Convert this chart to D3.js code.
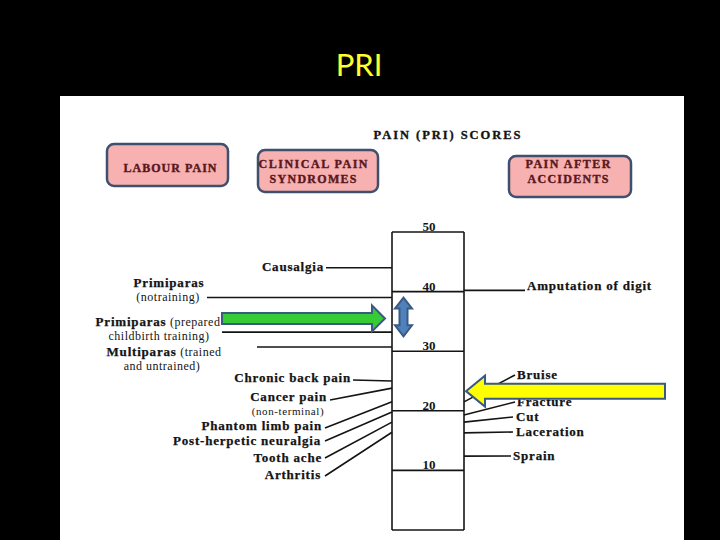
<!DOCTYPE html>
<html><head><meta charset="utf-8">
<script src="https://cdn.jsdelivr.net/npm/d3@7"></script>
<style>body{margin:0;background:#000;}svg{display:block}</style>
</head><body>
<svg id="c" width="720" height="540"></svg>
<script>
// ---------- data ----------
const slideTitle = "PRI";
const chartTitle = "PAIN (PRI) SCORES";
const scaleTicks = [0, 10, 20, 30, 40, 50];
const scaleTickLabels = ["", "10", "20", "30", "40", "50"];
const groupTitles = [["LABOUR PAIN"], ["CLINICAL PAIN", "SYNDROMES"], ["PAIN AFTER", "ACCIDENTS"]];
const labourNames = ["Primiparas", "Primiparas", "Multiparas"];
const labourNotes1 = ["", " (prepared", " (trained"];
const labourNotes2 = ["(notraining)", "childbirth training)", "and untrained)"];
const labourValues = [39, 33.2, 30.7];
const clinicalLabels = ["Causalgia", "Chronic back pain", "Cancer pain", "Phantom limb pain", "Post-herpetic neuralgia", "Tooth ache", "Arthritis"];
const clinicalNotes = ["", "", "(non-terminal)", "", "", "", ""];
const clinicalValues = [44, 25, 23.8, 21.5, 19.8, 18.1, 16.4];
const accidentLabels = ["Amputation of digit", "Bruise", "Fracture", "Cut", "Laceration", "Sprain"];
const accidentValues = [40.2, 21.5, 19.3, 18.1, 16.3, 12.4];
const greenArrowValue = 35.5;
const doubleArrowRange = [39, 32.5];
const yellowArrowValue = 23.3;

// ---------- layout ----------
const svg = d3.select("#c");
const y = d3.scaleLinear().domain([0, 50]).range([530, 232]);
const colL = 392, colR = 464;
const serif = "'Liberation Serif','Times New Roman',serif";
const ink = "#141414";

svg.append("rect").attr("width", 720).attr("height", 540).attr("fill", "#000");
svg.append("text").attr("x", 359).attr("y", 76).attr("text-anchor", "middle")
  .attr("font-family", "Lato, 'Open Sans', sans-serif").attr("font-size", 31)
  .attr("fill", "#ffff2e").text(slideTitle);
svg.append("rect").attr("x", 60).attr("y", 96).attr("width", 624).attr("height", 444).attr("fill", "#ffffff");

// chart title
svg.append("text").attr("x", 447).attr("y", 139).attr("text-anchor", "middle")
  .attr("font-family", serif).attr("font-weight", "bold").attr("font-size", 12.5)
  .attr("textLength", 147).attr("lengthAdjust", "spacing")
  .attr("fill", ink).attr("stroke", ink).attr("stroke-width", 0.35).text(chartTitle);

// group boxes
const boxes = [
  {x: 107, y: 144, w: 121, h: 42, cx: 170, base: [172], widths: [93]},
  {x: 258, y: 150, w: 120, h: 42, cx: 313, base: [168, 183], widths: [109, 87]},
  {x: 509, y: 156, w: 122, h: 41, cx: 568, base: [168, 183], widths: [85, 81]}
];
boxes.forEach((b, i) => {
  svg.append("rect").attr("x", b.x).attr("y", b.y).attr("width", b.w).attr("height", b.h)
    .attr("rx", 7).attr("fill", "#f8b1b1").attr("stroke", "#3f4f6e").attr("stroke-width", 2.5);
  groupTitles[i].forEach((t, j) => {
    svg.append("text").attr("x", b.cx).attr("y", b.base[j]).attr("text-anchor", "middle")
      .attr("font-family", serif).attr("font-weight", "bold").attr("font-size", 12)
      .attr("textLength", b.widths[j]).attr("lengthAdjust", "spacing")
      .attr("fill", "#5a1820").attr("stroke", "#5a1820").attr("stroke-width", 0.4).text(t);
  });
});

// scale column
const col = svg.append("g").attr("stroke", ink).attr("stroke-width", 1.6).attr("fill", "none");
col.append("line").attr("x1", colL).attr("x2", colL).attr("y1", y(50)).attr("y2", y(0));
col.append("line").attr("x1", colR).attr("x2", colR).attr("y1", y(50)).attr("y2", y(0));
col.selectAll("line.t").data(scaleTicks).join("line").attr("class", "t")
  .attr("x1", colL).attr("x2", colR).attr("y1", d => y(d)).attr("y2", d => y(d));
svg.selectAll("text.tick").data(scaleTicks).join("text").attr("class", "tick")
  .attr("x", 429).attr("y", d => y(d) - 1).attr("text-anchor", "middle")
  .attr("font-family", serif).attr("font-weight", "bold").attr("font-size", 13)
  .attr("fill", ink).text((d, i) => scaleTickLabels[i]);

const lab = (sel) => sel.attr("font-family", serif).attr("fill", ink);
const boldLab = (sel) => lab(sel).attr("font-weight", "bold").attr("font-size", 13)
  .attr("letter-spacing", 0.8).attr("stroke", ink).attr("stroke-width", 0.25);

// labour labels + leaders
const labourLayout = [
  {c1: 169, b1: 287, c2: 168, b2: 301, x0: 207},
  {c1: 158, b1: 326, c2: 159, b2: 340, x0: 222},
  {c1: 164, b1: 356, c2: 162, b2: 370, x0: 257}
];
labourValues.forEach((v, i) => {
  const L = labourLayout[i];
  const t1 = lab(svg.append("text")).attr("x", L.c1).attr("y", L.b1).attr("text-anchor", "middle");
  t1.append("tspan").attr("font-weight", "bold").attr("font-size", 13).attr("letter-spacing", 0.8)
    .attr("stroke", ink).attr("stroke-width", 0.25).text(labourNames[i]);
  if (labourNotes1[i]) t1.append("tspan").attr("font-size", 12).attr("letter-spacing", 0.5).text(labourNotes1[i]);
  lab(svg.append("text")).attr("x", L.c2).attr("y", L.b2).attr("text-anchor", "middle")
    .attr("font-size", 12).attr("letter-spacing", 0.5).text(labourNotes2[i]);
  svg.append("line").attr("x1", L.x0).attr("x2", colL).attr("y1", y(v)).attr("y2", y(v))
    .attr("stroke", ink).attr("stroke-width", 1.6);
});

// clinical labels + leaders
const clinicalLayout = [
  {xe: 324, b: 271, lx: 326, ly: null},
  {xe: 351, b: 382, lx: 353, ly: 380},
  {xe: 327, b: 401, lx: 330, ly: 400},
  {xe: 322, b: 430, lx: 325, ly: 428},
  {xe: 321, b: 445, lx: 325, ly: 441},
  {xe: 322, b: 462, lx: 325, ly: 458},
  {xe: 321, b: 479, lx: 325, ly: 476}
];
clinicalValues.forEach((v, i) => {
  const L = clinicalLayout[i];
  boldLab(svg.append("text")).attr("x", L.xe).attr("y", L.b).attr("text-anchor", "end").text(clinicalLabels[i]);
  if (clinicalNotes[i]) lab(svg.append("text")).attr("x", 288).attr("y", L.b + 14).attr("text-anchor", "middle")
    .attr("font-size", 11).attr("letter-spacing", 0.6).text(clinicalNotes[i]);
  svg.append("line").attr("x1", L.lx).attr("y1", L.ly === null ? y(v) : L.ly)
    .attr("x2", colL).attr("y2", y(v)).attr("stroke", ink).attr("stroke-width", 1.6);
});

// accident labels + leaders
const accidentLayout = [
  {x: 527, b: 290, lx: 525, ly: null},
  {x: 517, b: 379, lx: 515, ly: 375},
  {x: 517, b: 406, lx: 515, ly: 402},
  {x: 516, b: 421, lx: 513, ly: 417},
  {x: 516, b: 436, lx: 513, ly: 432},
  {x: 513, b: 460, lx: 511, ly: 456}
];
accidentValues.forEach((v, i) => {
  const L = accidentLayout[i];
  boldLab(svg.append("text")).attr("x", L.x).attr("y", L.b).text(accidentLabels[i]);
  svg.append("line").attr("x1", colR).attr("y1", y(v))
    .attr("x2", L.lx).attr("y2", L.ly === null ? y(v) : L.ly).attr("stroke", ink).attr("stroke-width", 1.6);
});

// highlight arrows
const arrowStroke = "#3b5a82";
const gy = y(greenArrowValue);
const gPts = [[222, gy - 5.5], [372, gy - 5.5], [372, gy - 13], [385, gy], [372, gy + 13], [372, gy + 5.5], [222, gy + 5.5]];
svg.append("path").attr("d", d3.line()(gPts) + "Z").attr("fill", "#36cc36")
  .attr("stroke", arrowStroke).attr("stroke-width", 2).attr("stroke-linejoin", "miter");

const t = y(doubleArrowRange[0]), b = y(doubleArrowRange[1]), cx = 403.5;
const dPts = [[cx, t], [cx + 8.5, t + 11], [cx + 4, t + 11], [cx + 4, b - 11], [cx + 8.5, b - 11], [cx, b],
  [cx - 8.5, b - 11], [cx - 4, b - 11], [cx - 4, t + 11], [cx - 8.5, t + 11]];
svg.append("path").attr("d", d3.line()(dPts) + "Z").attr("fill", "#4f81bd")
  .attr("stroke", arrowStroke).attr("stroke-width", 2);

const yy = y(yellowArrowValue);
const yPts = [[665, yy - 7.5], [485, yy - 7.5], [485, yy - 15.5], [466, yy], [485, yy + 15.5], [485, yy + 7.5], [665, yy + 7.5]];
svg.append("path").attr("d", d3.line()(yPts) + "Z").attr("fill", "#ffff00")
  .attr("stroke", arrowStroke).attr("stroke-width", 2);
</script>
</body></html>
